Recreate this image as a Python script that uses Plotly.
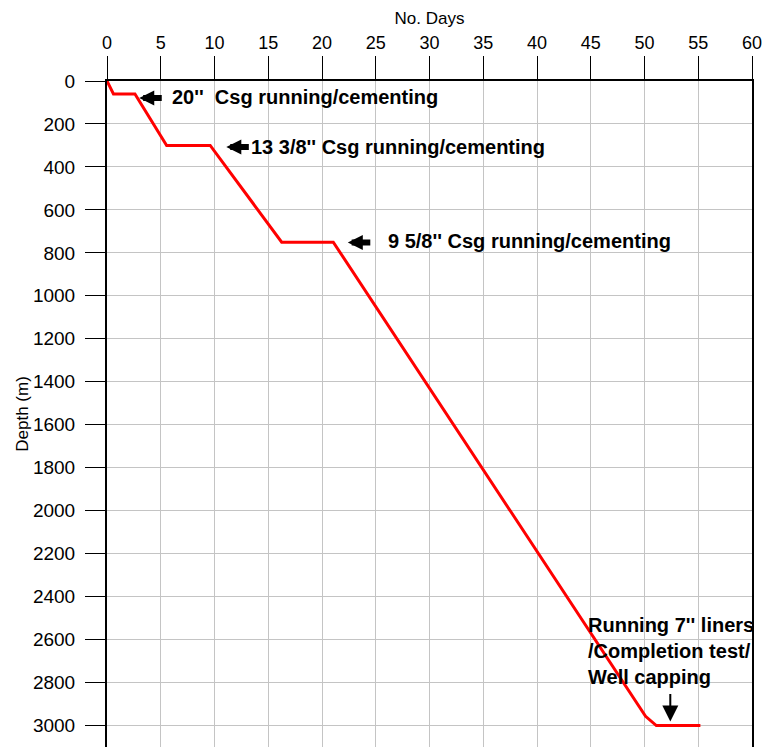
import plotly.graph_objects as go

# Drilling curve: days vs depth
days = [0, 0.6, 2.6, 5.55, 9.6, 16.25, 21.05, 50.1, 51.1, 55.2]
depth = [0, 60, 60, 300, 300, 750, 750, 2957, 3000, 3000]

x_ticks = list(range(0, 61, 5))
y_ticks = list(range(0, 3001, 200))

# annotation texts and anchor positions (days, depth)
ann_texts = ["20''  Csg running/cementing",
             "13 3/8'' Csg running/cementing",
             "9 5/8'' Csg running/cementing",
             "Running 7'' liners<br>/Completion test/<br>Well capping"]
ann_x = [5.86, 13.2, 25.95, 44.56]
ann_y = [74, 307, 744, 2651]
arrow_x = [3.0, 11.1, 22.4]
arrow_y = [79, 307, 752]
down_arrow_x = 52.4
down_arrow_y = 2981

fig = go.Figure()
fig.add_trace(go.Scatter(x=days, y=depth, mode="lines",
                         line=dict(color="#ff0000", width=3),
                         showlegend=False, hoverinfo="skip"))

font_main = "Liberation Sans, Arial, sans-serif"

for t, x, y in zip(ann_texts, ann_x, ann_y):
    fig.add_annotation(x=x, y=y, text="<b>" + t + "</b>", showarrow=False,
                       xanchor="left", yanchor="middle", align="left",
                       font=dict(family=font_main, size=20, color="black"))
for x, y in zip(arrow_x, arrow_y):
    fig.add_annotation(x=x, y=y, ax=24, ay=0, text="", showarrow=True,
                       arrowhead=2, arrowsize=0.5, arrowwidth=6,
                       arrowcolor="black")
fig.add_annotation(x=down_arrow_x, y=down_arrow_y, ax=0, ay=-29, text="",
                   showarrow=True, arrowhead=2, arrowsize=1.6, arrowwidth=2,
                   arrowcolor="black")

fig.update_xaxes(range=[0, 60], side="top", tickvals=x_ticks,
                 ticks="outside", ticklen=23, tickwidth=1.2, tickcolor="black",
                 showgrid=True, gridcolor="#c4c4c4", gridwidth=1,
                 showline=True, linecolor="black", linewidth=2,
                 zeroline=False, automargin=False,
                 tickfont=dict(family=font_main, size=18, color="black"),
                 title=dict(text="No. Days", standoff=4,
                            font=dict(family=font_main, size=17, color="black")))
fig.update_yaxes(range=[3100, 0], tickvals=y_ticks,
                 ticks="outside", ticklen=20, tickwidth=1.2, tickcolor="black",
                 ticklabelstandoff=6,
                 showgrid=True, gridcolor="#c4c4c4", gridwidth=1,
                 showline=True, linecolor="black", linewidth=2, mirror=True,
                 zeroline=False, automargin=False,
                 tickfont=dict(family=font_main, size=19, color="black"),
                 title=dict(text="Depth (m)", standoff=0,
                            font=dict(family=font_main, size=17, color="black")))

fig.update_layout(width=771, height=747,
                  margin=dict(l=107, r=19, t=81, b=0),
                  plot_bgcolor="white", paper_bgcolor="white")

fig.write_html("out.html", config={"displayModeBar": False},
               post_script="document.body.style.margin='0';document.body.style.overflow='hidden';")
